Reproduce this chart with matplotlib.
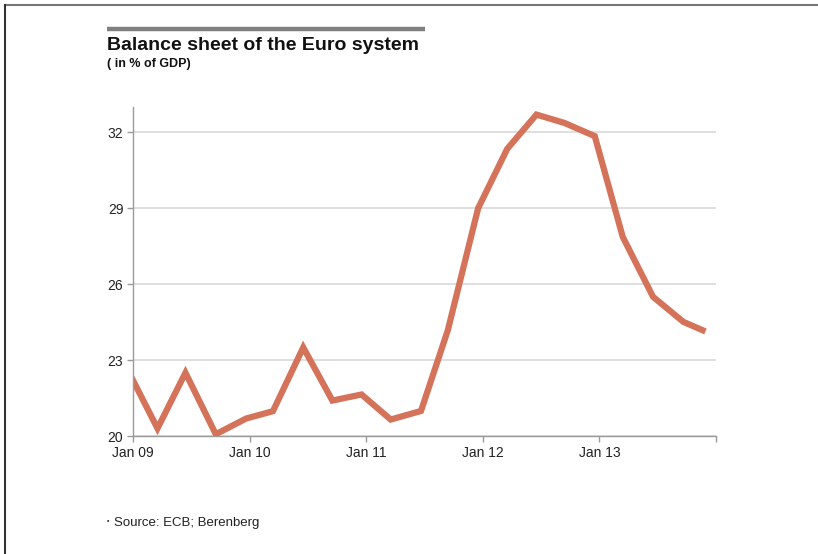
import matplotlib
matplotlib.use("Agg")
import matplotlib.pyplot as plt
from matplotlib.lines import Line2D

# Data (x in years since Jan 2009)
x_years = [0.0, 0.21, 0.45, 0.71, 0.97, 1.20, 1.46, 1.71, 1.96, 2.21, 2.47,
           2.70, 2.96, 3.21, 3.46, 3.70, 3.96, 4.20, 4.46, 4.72, 4.885]
values = [22.2, 20.3, 22.5, 20.07, 20.69, 20.98, 23.5, 21.4, 21.64, 20.65, 20.99,
          24.18, 29.0, 31.35, 32.7, 32.37, 31.85, 27.87, 25.5, 24.51, 24.18]
x_tick_pos = [0, 1, 2, 3, 4, 5]
x_tick_labels = ["Jan 09", "Jan 10", "Jan 11", "Jan 12", "Jan 13", ""]
y_ticks = [20, 23, 26, 29, 32]

W, H = 818, 554
fig = plt.figure(figsize=(W / 100, H / 100), dpi=100)
plt.rcParams['font.family'] = ['Liberation Sans', 'DejaVu Sans']

# axes: x 133..716, y 107..436 (pixels)
left, right, top, bottom = 133, 716, 107, 436
ax = fig.add_axes([left / W, 1 - bottom / H, (right - left) / W, (bottom - top) / H])
ax.plot(x_years, values, color="#D4735A", lw=4.5, solid_joinstyle="miter", clip_on=True)
ax.set_xlim(0, 5)
ax.set_ylim(20, 33)
ax.set_yticks(y_ticks)
ax.set_xticks(x_tick_pos)
ax.set_xticklabels(x_tick_labels)
ax.grid(axis="y", color="#D9D9D9", lw=1.2)
ax.set_axisbelow(True)
for s in ["top", "right"]:
    ax.spines[s].set_visible(False)
for s in ["left", "bottom"]:
    ax.spines[s].set_color("#9A9A9A")
    ax.spines[s].set_linewidth(1.0)
ax.tick_params(axis="both", colors="#9A9A9A", labelcolor="#222222", labelsize=10, length=4, width=1)
ax.tick_params(axis="x", pad=3)
ax.tick_params(axis="y", pad=3)

# Title elements
fig.add_artist(Line2D([107 / W, 425 / W], [1 - 29 / H, 1 - 29 / H], color="#808080", lw=3.2,
                      solid_capstyle="butt"))
fig.text(107 / W, 1 - 46 / H, "Balance sheet of the Euro system", fontsize=14, fontweight="bold",
         va="center", ha="left", color="#111111")
fig.text(107 / W, 1 - 64 / H, "( in % of GDP)", fontsize=9, fontweight="bold",
         va="center", ha="left", color="#111111")
fig.text(107 / W, 1 - 521.5 / H, "\u2022", fontsize=5, va="center", ha="left", color="#222222")
fig.text(114 / W, 1 - 523 / H, "Source: ECB; Berenberg", fontsize=9.5,
         va="center", ha="left", color="#222222")

# Frame lines
fig.add_artist(Line2D([5 / W, 1], [1 - 5 / H, 1 - 5 / H], color="#777777", lw=1.5))
fig.add_artist(Line2D([5 / W, 5 / W], [0, 1 - 5 / H], color="#333333", lw=1.5))

fig.savefig("out.png", dpi=100)
